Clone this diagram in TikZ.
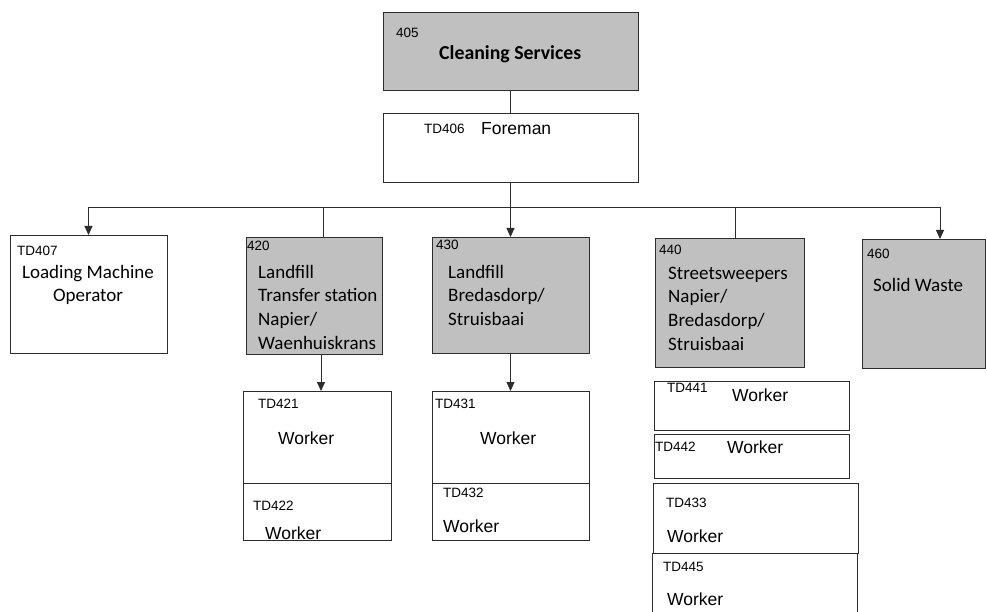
\documentclass[tikz,border=0pt]{standalone}
\usepackage{fontspec}
\setmainfont{Carlito}
\newfontfamily\arialfont{Liberation Sans}
\usetikzlibrary{arrows.meta,fit}
\definecolor{unitgrey}{RGB}{192,192,192}
\definecolor{linegrey}{RGB}{45,45,45}

\begin{document}
\begin{tikzpicture}[x=1pt,y=-1pt,
    unit/.style={draw=linegrey, line width=0.9pt, inner sep=0pt, outer sep=0pt},
    dept/.style={unit, fill=unitgrey},
    code/.style={font=\arialfont\fontsize{13.5}{15}\selectfont, inner sep=0pt, anchor=west},
    title/.style={font=\fontsize{19}{23.7}\selectfont, inner sep=0pt, anchor=base west, align=left},
    worker/.style={font=\arialfont\fontsize{17.5}{20}\selectfont, inner sep=0pt, anchor=west},
    link/.style={draw=linegrey, line width=0.9pt},
    arr/.style={link, -{Triangle[length=9pt,width=8pt]}}]

  \useasboundingbox (0,0) rectangle (987,612);
  \fill[white] (0,0) rectangle (987,612);

  % top of the tree
  \node[dept, fit={(383,12) (638,90)}] (cs) {};
  \node[code] (c405) at (396,33) {405};
  \node[title, font=\bfseries\fontsize{19.8}{23.7}\selectfont] (tcs) at (439,60) {Cleaning Services};

  \node[unit, fit={(383,113) (638,182)}] (fm) {};
  \node[code] (c406) at (424,129) {TD406};
  \node[worker] (tfm) at (481,129) {Foreman};

  % second row (multi-line texts sit on their last baseline)
  \node[unit, fit={(10,235) (167,353)}] (u407) {};
  \node[code] (c407) at (17,251) {TD407};
  \node[title, anchor=base, align=center] (t407) at (88,301.7) {Loading Machine\\Operator};

  \node[dept, fit={(246,237) (382,354)}] (u420) {};
  \node[code] (c420) at (247,246) {420};
  \node[title] (t420) at (258,349.1) {Landfill\\Transfer station\\Napier/\\Waenhuiskrans};

  \node[dept, fit={(432,237) (589,353)}] (u430) {};
  \node[code] (c430) at (436,245) {430};
  \node[title] (t430) at (448,325.4) {Landfill\\Bredasdorp/\\Struisbaai};

  \node[dept, fit={(655,238) (804,367)}] (u440) {};
  \node[code] (c440) at (659,250) {440};
  \node[title] (t440) at (668,350.1) {Streetsweepers\\Napier/\\Bredasdorp/\\Struisbaai};

  \node[dept, fit={(862,239) (985,368)}] (u460) {};
  \node[code] (c460) at (867,254) {460};
  \node[title] (t460) at (873,291) {Solid Waste};

  % workers
  \node[unit, fit={(243,391) (391,483)}] (w421) {};
  \node[code] (c421) at (258,404) {TD421};
  \node[worker] (t421) at (278,438) {Worker};
  \node[unit, fit={(243,483) (391,540)}] (w422) {};
  \node[code] (c422) at (253,506) {TD422};
  \node[worker] (t422) at (265,533) {Worker};

  \node[unit, fit={(432,391) (589,483)}] (w431) {};
  \node[code] (c431) at (435,404) {TD431};
  \node[worker] (t431) at (480,438) {Worker};
  \node[unit, fit={(432,483) (589,540)}] (w432) {};
  \node[code] (c432) at (443,493) {TD432};
  \node[worker] (t432) at (443,526) {Worker};

  \node[unit, fit={(654,381) (849,430)}] (w441) {};
  \node[code] (c441) at (667,388) {TD441};
  \node[worker] (t441) at (732,395) {Worker};
  \node[unit, fit={(654,434) (849,478)}] (w442) {};
  \node[code] (c442) at (655,447) {TD442};
  \node[worker] (t442) at (727,447) {Worker};
  \node[unit, fit={(653,483) (858,553)}] (w433) {};
  \node[code] (c433) at (666,503) {TD433};
  \node[worker] (t433) at (667,536) {Worker};
  \node[unit, fit={(652,553) (857,620)}] (w445) {};
  \node[code] (c445) at (663,567) {TD445};
  \node[worker] (t445) at (667,599) {Worker};

  % connectors
  \coordinate (bus) at (510.5,207);
  \draw[link] (cs) -- (fm);
  \draw[link] (fm.south) -- (bus);
  \draw[arr] (bus) -| (u407.north);
  \draw[link] (bus) -| ([xshift=9pt]u420.north);
  \draw[arr] (bus) -- (u430.north);
  \draw[link] (bus) -| ([xshift=5.5pt]u440.north);
  \draw[arr] (bus) -| ([xshift=16.5pt]u460.north);
  \draw[arr] ([xshift=4pt]w421.north |- u420.south) -- ([xshift=4pt]w421.north);
  \draw[arr] (u430.south) -- (w431.north);

\end{tikzpicture}
\end{document}
